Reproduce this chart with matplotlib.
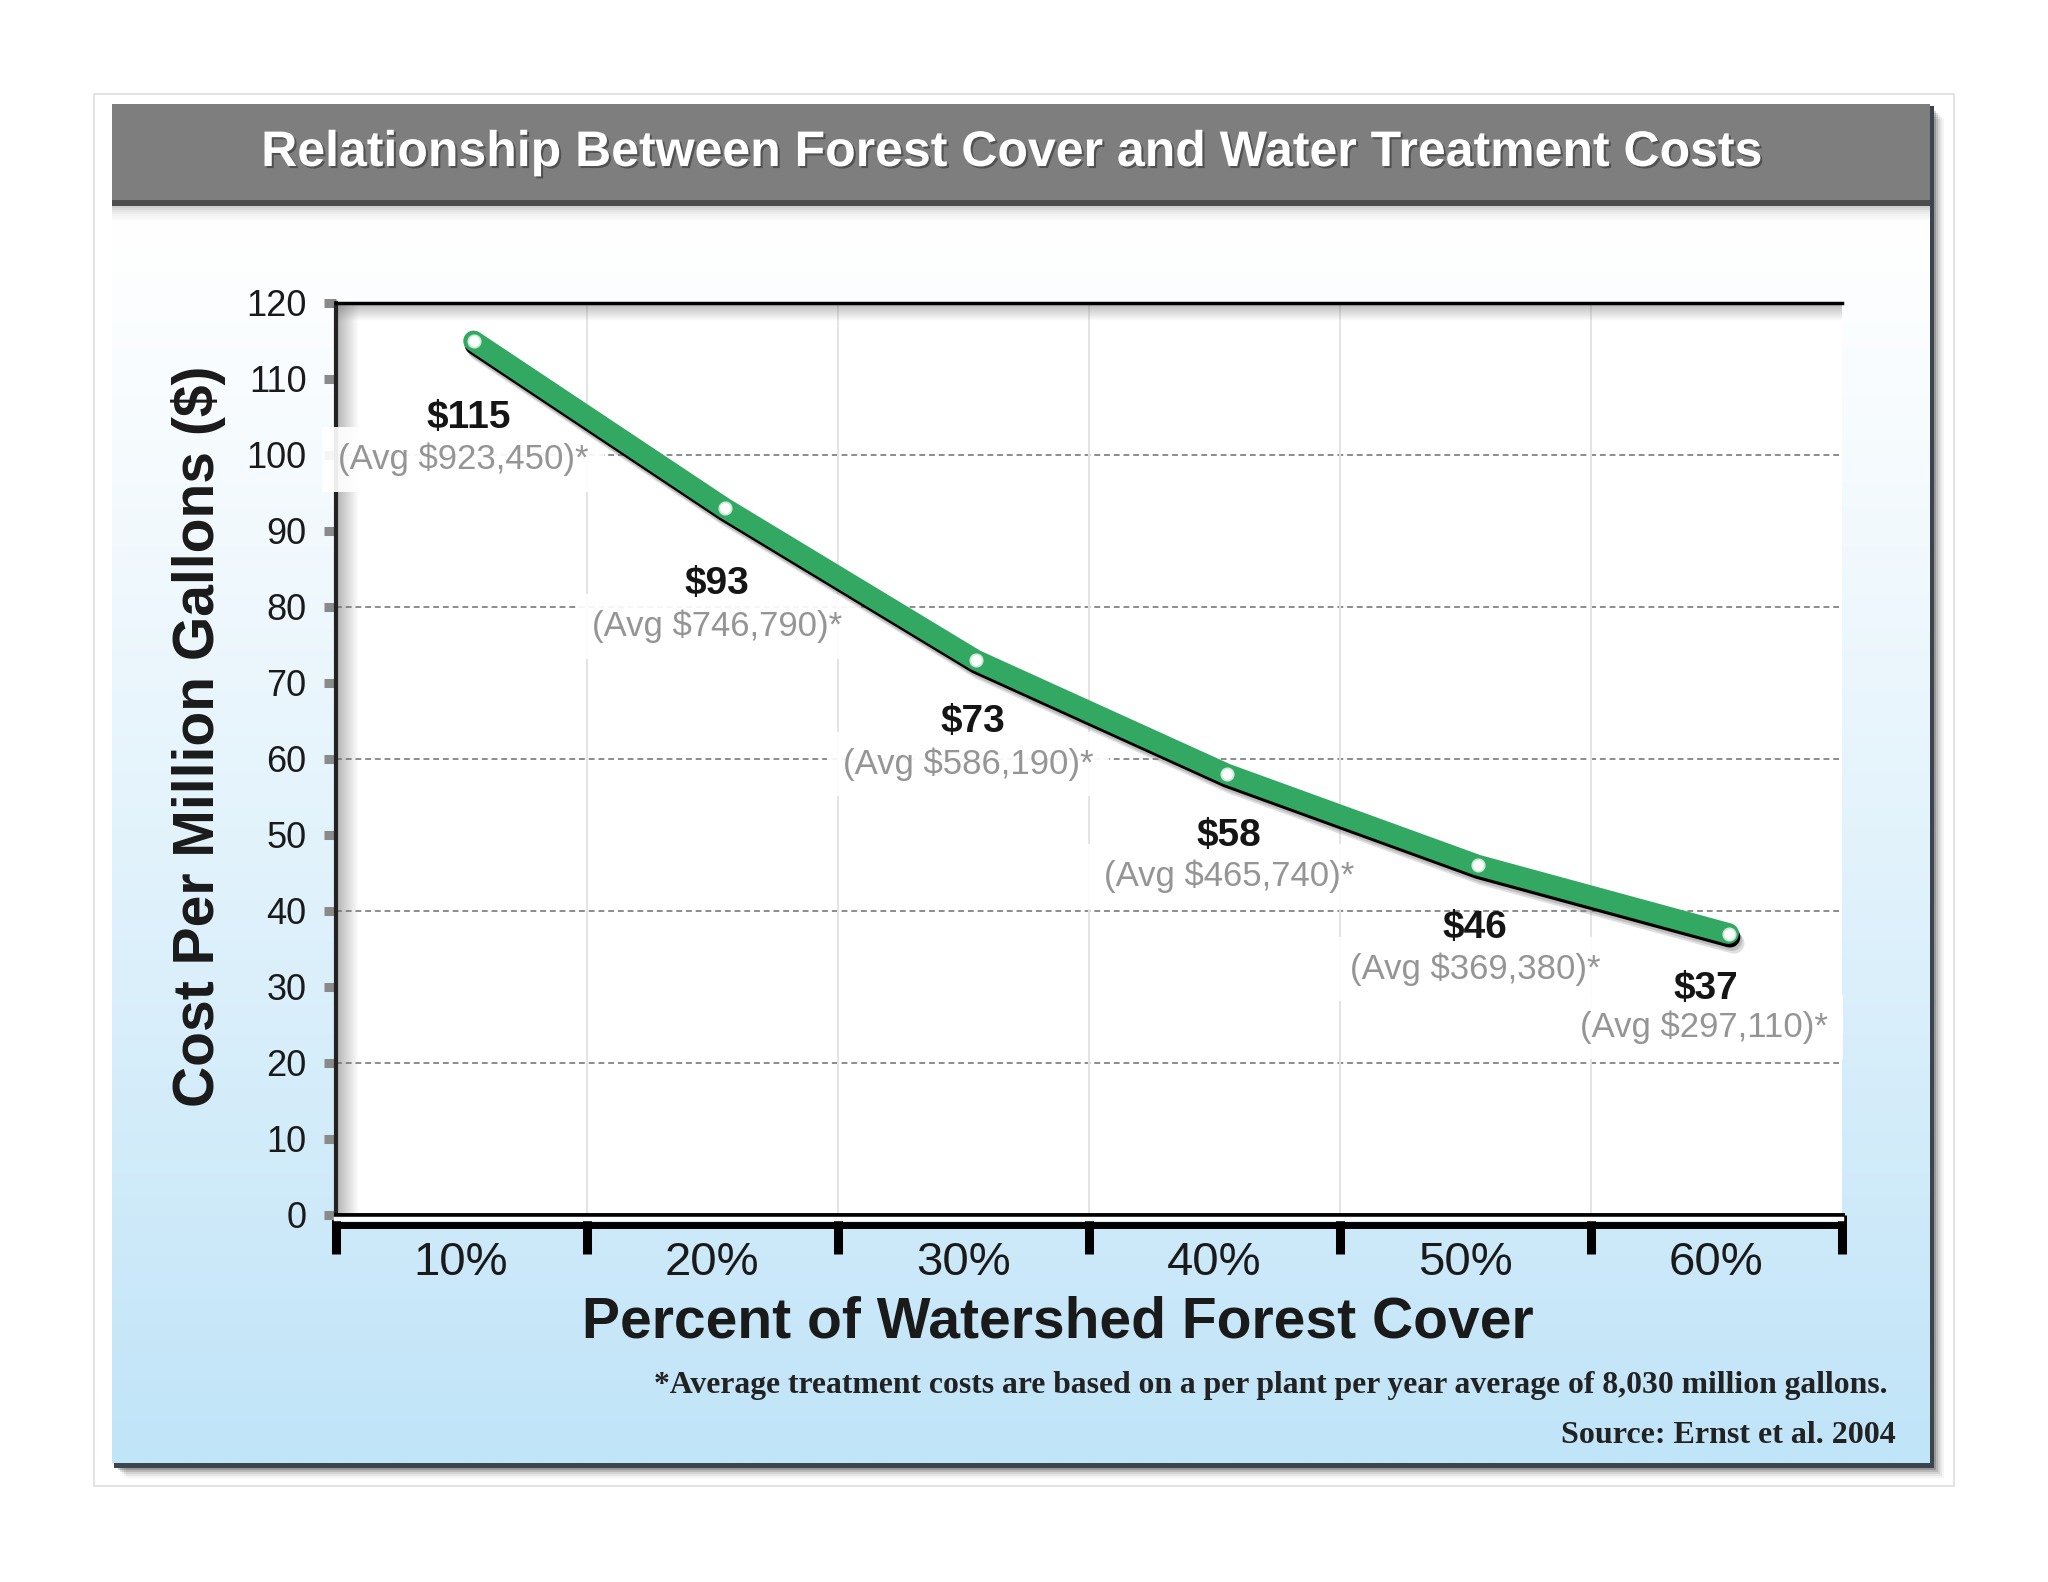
import numpy as np
import matplotlib.pyplot as plt
import matplotlib.patheffects as pe
import matplotlib.transforms as mtransforms
from matplotlib.patches import Rectangle

plt.rcParams['font.family'] = ['Liberation Sans', 'DejaVu Sans']

# --- Data ---
forest_cover = ['10%', '20%', '30%', '40%', '50%', '60%']
cost_per_mg = [115, 93, 73, 58, 46, 37]
avg_plant_cost = [923450, 746790, 586190, 465740, 369380, 297110]
y_ticks = list(range(0, 121, 10))
grid_levels = [20, 40, 60, 80, 100]

TITLE = "Relationship Between Forest Cover and Water Treatment Costs"
Y_LABEL = "Cost Per Million Gallons ($)"
X_LABEL = "Percent of Watershed Forest Cover"
FOOTNOTE = "*Average treatment costs are based on a per plant per year average of 8,030 million gallons."
SOURCE = "Source: Ernst et al. 2004"

# --- Style ---
GREEN = '#33a862'
W, H = 2048, 1582
# label offsets from their point, in points
val_dx = [-3.8, -5.6, -1.9, 1.9, -1.9, -16]
val_dy = [-55.6, -54.6, -44.3, -44.3, -45.2, -39.6]
avg_dx = [-7.5, -5.6, -5.6, 1.9, -1.9, -17.9]
avg_dy = [-85.2, -85.2, -74.8, -73.9, -74.8, -67.3]

fig = plt.figure(figsize=(W / 100, H / 100), dpi=100)
fig.patch.set_facecolor('white')

# background layer in pixel coordinates
bg = fig.add_axes([0, 0, 1, 1], zorder=0)
bg.axis('off')

p_left, p_right, p_top, p_bot = 112, 1930, 104, 1463

# outer thin border
bg.add_patch(Rectangle((94, 94), 1860, 1392, fill=False, ec='#dedede', lw=1.2))

# panel shadow (right / bottom)
for k, a in zip(range(12, 0, -2), [0.04, 0.06, 0.08, 0.12, 0.18, 0.25]):
    bg.add_patch(Rectangle((p_left + 2 + k, p_top + 3 + k), p_right - p_left, p_bot - p_top,
                           fc='black', ec='none', alpha=a))
bg.add_patch(Rectangle((p_left + 2, p_top + 2), p_right - p_left + 2, p_bot - p_top + 3,
                       fc='#3c454d', ec='none'))

# panel gradient white -> light blue
t = np.linspace(0, 1, 256)[:, None] ** 1.15
top_c = np.array([1.0, 1.0, 1.0])
bot_c = np.array([192, 228, 248]) / 255
grad = top_c + (bot_c - top_c) * t
grad = np.repeat(grad[:, None, :], 2, axis=1)
bg.imshow(grad, extent=[p_left, p_right, p_bot, 206], aspect='auto', interpolation='bilinear', zorder=1)

# title bar
bg.add_patch(Rectangle((p_left, p_top), p_right - p_left, 97, fc='#7e7e7e', ec='none', zorder=2))
bg.add_patch(Rectangle((p_left, 200), p_right - p_left, 6, fc='#4d4d4d', ec='none', zorder=2))
for k, a in zip(range(1, 14, 2), [0.18, 0.14, 0.1, 0.07, 0.05, 0.03, 0.02]):
    bg.add_patch(Rectangle((p_left, 206 + k - 1), p_right - p_left, 2, fc='black', ec='none', alpha=a, zorder=2))

bg.set_xlim(0, W)
bg.set_ylim(H, 0)

fig.text(1012 / W, 1 - 153 / H, TITLE, ha='center', va='center', fontsize=36,
         fontweight='bold', color='white',
         path_effects=[pe.withSimplePatchShadow(offset=(1.5, -1.5), shadow_rgbFace='#333333', alpha=0.6)])

# --- Main chart ---
ax = fig.add_axes([335.6 / W, 1 - 1214.6 / H, (1841.5 - 335.6) / W, (1214.6 - 303) / H], zorder=2)
ax.set_facecolor('white')

x_pos = np.arange(len(cost_per_mg)) + 0.55

for lvl in grid_levels:
    ax.axhline(lvl, color='#8c8c8c', lw=1.4, ls=(0, (3, 2)), zorder=1)
for i in range(1, len(forest_cover)):
    ax.axvline(i, color='#e4e4e4', lw=1.4, zorder=1)

# inner shadow along top and left edges
fade = np.zeros((1, 64, 4))
fade[..., :3] = 0.45
fade[..., 3] = np.linspace(0.55, 0, 64)
ax.imshow(fade, extent=[0, 0.09, 0, 120], aspect='auto', zorder=1.5)
ax.imshow(np.transpose(fade, (1, 0, 2)), extent=[0, 6, 120 - 2.4, 120], aspect='auto', zorder=1.5)

# value labels (avg first, value text on top of it)
for i, (c, v) in enumerate(zip(cost_per_mg, avg_plant_cost)):
    ax.annotate(f"(Avg ${v:,})*", (x_pos[i], c), xytext=(avg_dx[i], avg_dy[i]), textcoords='offset points',
                ha='center', va='center', fontsize=25, color='#959595', zorder=3,
                bbox=dict(boxstyle='square,pad=0.45', fc='white', ec='none', alpha=0.92))
    ax.annotate(f"${c}", (x_pos[i], c), xytext=(val_dx[i], val_dy[i]), textcoords='offset points',
                ha='center', va='center', fontsize=28, fontweight='bold', color='#151515', zorder=3.2,
                bbox=dict(boxstyle='square,pad=0.2', fc='white', ec='none', alpha=0.0))

ax.plot(x_pos, cost_per_mg, color=GREEN, lw=15, solid_capstyle='round', solid_joinstyle='round', zorder=4,
        path_effects=[pe.SimpleLineShadow(offset=(4, -7), shadow_color='#808080', alpha=0.25),
                      pe.SimpleLineShadow(offset=(2.5, -5), shadow_color='#808080', alpha=0.35),
                      pe.SimpleLineShadow(offset=(1, -2.6), shadow_color='black', alpha=1.0),
                      pe.Normal()])
ax.plot(x_pos, cost_per_mg, 'o', ms=9, mfc='white', mec='#c9ebd5', mew=1.2, zorder=5)

ax.set_xlim(0, 6)
ax.set_ylim(0, 120)

ax.set_yticks(y_ticks)
ax.tick_params(axis='y', direction='out', length=9, width=6.5, color='#8a8a8a', pad=12,
               labelsize=26, labelcolor='#1a1a1a')
ax.set_xticks(range(len(forest_cover) + 1))
ax.set_xticklabels([])
ax.tick_params(axis='x', which='major', direction='out', length=28, width=6.5, color='black')
ax.set_xticks(np.arange(len(forest_cover)) + 0.5, minor=True)
ax.set_xticklabels(forest_cover, minor=True)
ax.tick_params(axis='x', which='minor', length=0, pad=19, labelsize=34, labelcolor='#1a1a1a')

ax.spines['right'].set_visible(False)
ax.spines['top'].set_color('black')
ax.spines['top'].set_linewidth(2.5)
ax.spines['left'].set_color('#222222')
ax.spines['left'].set_linewidth(3)
ax.spines['bottom'].set_color('black')
ax.spines['bottom'].set_linewidth(3.5)

# double bar under the x axis
off_white = ax.transAxes + mtransforms.ScaledTranslation(0, -4.8 / 100, fig.dpi_scale_trans)
off_black = ax.transAxes + mtransforms.ScaledTranslation(0, -10.5 / 100, fig.dpi_scale_trans)
ax.plot([0, 1], [0, 0], transform=off_white, color='white', lw=3.2, clip_on=False, zorder=6)
ax.plot([0, 1], [0, 0], transform=off_black, color='black', lw=5, clip_on=False, zorder=6,
        solid_capstyle='butt')

fig.text(198.5 / W, 1 - 736.6 / H, Y_LABEL, rotation=90, ha='center', va='center',
         fontsize=41, fontweight='bold', color='#1a1a1a')
fig.text(1058 / W, 1 - 1322 / H, X_LABEL, ha='center', va='center',
         fontsize=41, fontweight='bold', color='#1a1a1a')
fig.text(1887 / W, 1 - 1386 / H, FOOTNOTE, ha='right', va='center', fontsize=22.8,
         family=['Liberation Serif', 'DejaVu Serif'], fontweight='bold', color='#222222')
fig.text(1896 / W, 1 - 1435.5 / H, SOURCE, ha='right', va='center', fontsize=23,
         family=['Liberation Serif', 'DejaVu Serif'], fontweight='bold', color='#222222')

fig.savefig('out.png', dpi=100)
